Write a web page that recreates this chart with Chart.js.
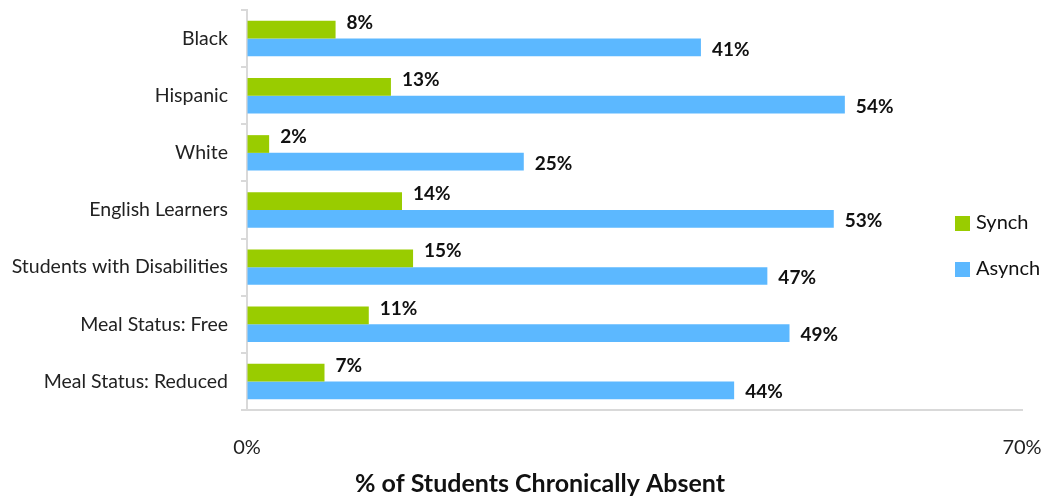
<!DOCTYPE html>
<html lang="en">
  <head>
    <meta charset="UTF-8" />
    <title>Chronic absence</title>
    <script src="https://cdn.jsdelivr.net/npm/chart.js"></script>
    <style>
      body { margin: 0; background: #fff; }
      .canvas { width: 1048px; height: 499px; }
    </style>
  </head>
  <body>
    <div class="canvas">
      <canvas id="myChart"></canvas>
    </div>
    <script>
      let groups = [
        "Black",
        "Hispanic",
        "White",
        "English Learners",
        "Students with Disabilities",
        "Meal Status: Free",
        "Meal Status: Reduced",
      ];
      let synch = [8, 13, 2, 14, 15, 11, 7];
      let asynch = [41, 54, 25, 53, 47, 49, 44];
      let xTicks = [0, 70];
      let axisTitle = "% of Students Chronically Absent";

      const FONT = "Lato, 'Liberation Sans', sans-serif";

      // value labels next to bar ends, green ones nudged up like the original
      const barLabels = {
        id: "barLabels",
        afterDatasetsDraw(chart) {
          const ctx = chart.ctx;
          ctx.save();
          ctx.font = "bold 19px " + FONT;
          ctx.fillStyle = "#111";
          ctx.textBaseline = "middle";
          chart.data.datasets.forEach((ds, i) => {
            chart.getDatasetMeta(i).data.forEach((bar, j) => {
              let dy = i === 0 ? -7 : 2;
              ctx.fillText(ds.data[j] + "%", bar.x + 11, bar.y + dy);
            });
          });
          ctx.restore();
        },
      };

      // legend inside the plot on the right, axis title a bit left of plot centre
      const extras = {
        id: "extras",
        afterDraw(chart) {
          const ctx = chart.ctx;
          ctx.save();
          ctx.font = "20px " + FONT;
          ctx.textBaseline = "middle";
          chart.data.datasets.forEach((ds, i) => {
            let y = 223 + i * 46;
            ctx.fillStyle = ds.backgroundColor;
            ctx.fillRect(955, y - 7, 15, 15);
            ctx.fillStyle = "#111";
            ctx.fillText(ds.label, 976, y);
          });
          ctx.font = "bold 25px " + FONT;
          ctx.textAlign = "center";
          ctx.fillText(axisTitle, 540, 484);
          ctx.restore();
        },
      };

      new Chart(document.getElementById("myChart"), {
        type: "bar",
        data: {
          labels: groups,
          datasets: [
            {
              label: "Synch",
              data: synch,
              backgroundColor: "#99CC00",
              categoryPercentage: 0.62,
              barPercentage: 1,
            },
            {
              label: "Asynch",
              data: asynch,
              backgroundColor: "#5CB8FF",
              categoryPercentage: 0.62,
              barPercentage: 1,
            },
          ],
        },
        options: {
          indexAxis: "y",
          responsive: true,
          maintainAspectRatio: false,
          animation: false,
          layout: { padding: { top: 10, right: 26, left: 0, bottom: 29 } },
          plugins: {
            legend: { display: false },
            tooltip: { enabled: false },
          },
          scales: {
            x: {
              min: 0,
              max: 70,
              afterBuildTicks: (s) => {
                s.ticks = xTicks.map((v) => ({ value: v }));
              },
              afterFit: (s) => {
                s.height = 60;
                s.paddingLeft = 0;
                s.paddingRight = 0;
              },
              grid: { drawOnChartArea: false, tickLength: 0 },
              border: { color: "#d9d9d9", width: 2 },
              ticks: {
                padding: 26,
                color: "#222",
                font: { family: FONT, size: 20 },
                callback: (v) => v + "%",
              },
            },
            y: {
              afterFit: (s) => {
                s.width = 247;
                s.paddingTop = 0;
                s.paddingBottom = 0;
              },
              grid: {
                drawOnChartArea: false,
                tickLength: 6,
                color: "#d9d9d9",
                lineWidth: 2,
              },
              border: { color: "#d9d9d9", width: 2 },
              ticks: {
                padding: 13,
                color: "#222",
                font: { family: FONT, size: 19.5 },
              },
            },
          },
        },
        plugins: [barLabels, extras],
      });
    </script>
  </body>
</html>
